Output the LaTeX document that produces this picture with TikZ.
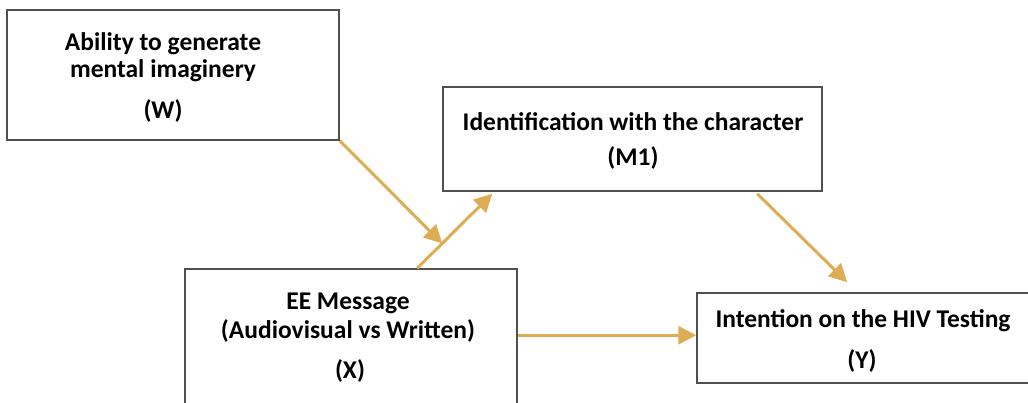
\documentclass[tikz,border=0pt]{standalone}
\usepackage{fontspec}
\setmainfont{Carlito}
\usetikzlibrary{arrows.meta,calc}
\definecolor{gold}{RGB}{222,172,84}
\definecolor{edge}{RGB}{80,80,80}
\tikzset{
  box/.style={draw=edge,line width=1.5pt,fill=white,minimum width=332pt,inner sep=0pt},
  lbl/.style={anchor=base,font=\fontsize{25.5}{25.5}\selectfont\bfseries,inner sep=0pt},
  conn/.style={draw=gold,line width=3pt,-{Triangle[length=18pt,width=18pt]}},
}
\begin{document}
\begin{tikzpicture}[x=1pt,y=-1pt]
\useasboundingbox (0,0) rectangle (1028,402);
\node[box,minimum height=130pt] (W) at (173,75) {};
\node[box,minimum width=379pt,minimum height=104pt] (M) at (632.5,139) {};
\node[box,minimum height=151pt] (X) at (351,344.5) {};
\node[box,minimum height=90pt] (Y) at (863,338) {};
\node[lbl] (w1) at (163,50) {Ability to generate};
\node[lbl] (w2) at (163,77) {mental imaginery};
\node[lbl] (w3) at (163,118) {(W)};
\node[lbl] (m1) at (633,130) {Identification with the character};
\node[lbl] (m2) at (633,165) {(M1)};
\node[lbl] (x1) at (348,309) {EE Message};
\node[lbl] (x2) at (348,338) {(Audiovisual vs Written)};
\node[lbl] (x3) at (350,378) {(X)};
\node[lbl] (y1) at (863,327) {Intention on the HIV Testing};
\node[lbl] (y2) at (862,368) {(Y)};
\coordinate (xs) at ($(X.north west)+(233,0)$);
\coordinate (me) at ($(M.south west)+(50,2)$);
\coordinate (mid) at ($(xs)!0.333!(me)$);
\coordinate (ms) at ($(M.south west)+(315,2)$);
\coordinate (ye) at ($(Y.north west)+(151,-10)$);
\coordinate (xe) at ($(X.north east)+(0,67)$);
\coordinate (yw) at ($(Y.north west)+(0,43)$);
\draw[conn] (xs) -- (me);
\draw[conn] (W.south east) -- (mid);
\draw[conn] (ms) -- (ye);
\draw[conn] (xe) -- (yw);
\end{tikzpicture}
\end{document}
